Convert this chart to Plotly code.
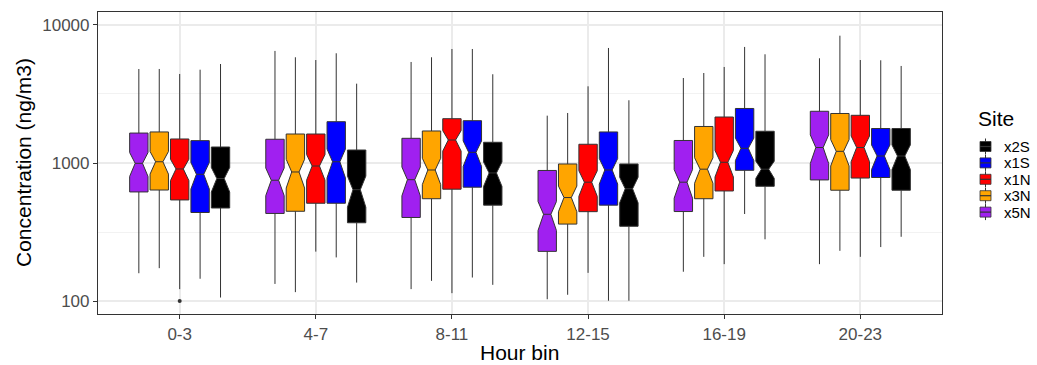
import plotly.graph_objects as go

# Hour bins on the x axis and sites (drawn left to right inside each bin)
hour_bins = ["0-3", "4-7", "8-11", "12-15", "16-19", "20-23"]
sites = ["x5N", "x3N", "x1N", "x1S", "x2S"]
legend_order = ["x2S", "x1S", "x1N", "x3N", "x5N"]
site_colors = {
    "x5N": "#A020F0",
    "x3N": "#FFA500",
    "x1N": "#FF0000",
    "x1S": "#0000FF",
    "x2S": "#000000",
}

# Box statistics per site, one value per hour bin (ng/m3)
lower_whisker = {
    "x5N": [159, 133, 122, 103, 163, 185],
    "x3N": [173, 116, 140, 111, 209, 231],
    "x1N": [122, 228, 114, 160, 185, 209],
    "x1S": [145, 207, 148, 100.5, 427, 246],
    "x2S": [106, 136, 131, 100.5, 280, 292],
}
q1 = {
    "x5N": [617, 431, 403, 229, 445, 754],
    "x3N": [637, 447, 551, 361, 551, 635],
    "x1N": [540, 511, 646, 444, 627, 778],
    "x1S": [438, 511, 668, 495, 885, 785],
    "x2S": [472, 369, 495, 348, 678, 635],
}
median = {
    "x5N": [995, 750, 757, 425, 726, 1295],
    "x3N": [1021, 861, 890, 562, 902, 1215],
    "x1N": [905, 951, 1468, 726, 1012, 1295],
    "x1S": [828, 1021, 1195, 890, 1278, 1124],
    "x2S": [772, 641, 847, 651, 902, 1124],
}
q3 = {
    "x5N": [1648, 1486, 1510, 883, 1456, 2370],
    "x3N": [1679, 1622, 1706, 984, 1839, 2284],
    "x1N": [1493, 1622, 2094, 1367, 2154, 2216],
    "x1S": [1452, 1992, 2026, 1679, 2483, 1778],
    "x2S": [1306, 1242, 1413, 984, 1698, 1778],
}
upper_whisker = {
    "x5N": [4797, 6486, 5395, 2203, 4129, 5738],
    "x3N": [4800, 5834, 5834, 2303, 4487, 8365],
    "x1N": [4416, 5572, 6699, 3594, 4963, 5572],
    "x1S": [4742, 6237, 6699, 6813, 6931, 5548],
    "x2S": [5214, 3756, 4395, 2847, 6133, 5047],
}
# Notch limits around the median
notch_low = {
    "x5N": [818, 600, 599, 336, 576, 1027],
    "x3N": [850, 682, 718, 456, 733, 980],
    "x1N": [760, 772, 1240, 590, 815, 1050],
    "x1S": [668, 808, 971, 723, 1063, 919],
    "x2S": [631, 498, 694, 529, 783, 919],
}
notch_high = {
    "x5N": [1210, 939, 956, 537, 916, 1634],
    "x3N": [1230, 1087, 1103, 693, 1111, 1506],
    "x1N": [1078, 1172, 1736, 895, 1256, 1597],
    "x1S": [1027, 1289, 1471, 1096, 1536, 1374],
    "x2S": [943, 824, 1034, 802, 1039, 1374],
}
# Outliers beyond the whiskers (x1N sits at the centre of its bin)
outlier_bins = ["0-3"]
outlier_values = [100]

y_tick_vals = [100, 1000, 10000]
y_tick_text = ["100", "1000", "10000"]
y_minor_vals = [316.23, 3162.3]

EDGE = "#333333"
FONT = "Liberation Sans, Arial, sans-serif"

fig = go.Figure()
for s in sites:
    span = [(hi - lo) / 2 for lo, hi in zip(notch_low[s], notch_high[s])]
    fig.add_trace(go.Box(
        name=s,
        x=hour_bins,
        q1=q1[s],
        median=median[s],
        q3=q3[s],
        lowerfence=lower_whisker[s],
        upperfence=upper_whisker[s],
        notched=True,
        notchspan=span,
        notchwidth=0.3,
        whiskerwidth=0,
        boxpoints=False,
        fillcolor=site_colors[s],
        line=dict(color=EDGE, width=1),
        showlegend=False,
        hoverinfo="skip",
    ))

fig.add_trace(go.Scatter(
    x=outlier_bins, y=outlier_values, mode="markers",
    marker=dict(size=4, color=EDGE), showlegend=False, hoverinfo="skip",
))

# Plot-area geometry in pixels, used to lay out titles and the legend
PL, PR, PT, PB = 98, 942, 12, 314


def fx(xp):
    return (xp - PL) / (PR - PL)


def fy(yp):
    return (PB - yp) / (PB - PT)


shapes = []
annotations = [
    dict(text="Hour bin", xref="paper", yref="paper", x=fx(519), y=fy(352),
         xanchor="center", yanchor="middle", showarrow=False, height=24,
         font=dict(size=21, color="#000000", family=FONT)),
    dict(text="Concentration (ng/m3)", xref="paper", yref="paper",
         x=fx(23), y=fy(163), textangle=-90,
         xanchor="center", yanchor="middle", showarrow=False,
         font=dict(size=21, color="#000000", family=FONT)),
    dict(text="Site", xref="paper", yref="paper", x=fx(976), y=fy(118),
         xanchor="left", yanchor="middle", showarrow=False,
         font=dict(size=21, color="#000000", family=FONT)),
]
for i, s in enumerate(legend_order):
    c = 146.5 + 16.4 * i
    shapes.append(dict(type="line", xref="paper", yref="paper",
                       x0=fx(985.5), x1=fx(985.5), y0=fy(c - 8), y1=fy(c + 8),
                       line=dict(color=EDGE, width=1)))
    shapes.append(dict(type="rect", xref="paper", yref="paper",
                       x0=fx(980), x1=fx(991), y0=fy(c - 5), y1=fy(c + 5),
                       fillcolor=site_colors[s], line=dict(color=EDGE, width=0.8)))
    shapes.append(dict(type="line", xref="paper", yref="paper",
                       x0=fx(980), x1=fx(991), y0=fy(c), y1=fy(c),
                       line=dict(color=EDGE, width=1.2)))
    annotations.append(dict(
        text=s, xref="paper", yref="paper", x=fx(1003), y=fy(c),
        xanchor="left", yanchor="middle", showarrow=False,
        height=15, valign="middle", borderpad=0,
        font=dict(size=15, color="#000000", family=FONT),
    ))

fig.update_layout(
    width=1037, height=365,
    margin=dict(l=PL, r=1037 - PR, t=PT, b=365 - PB, autoexpand=False),
    boxmode="group", boxgap=0.25, boxgroupgap=0.1,
    plot_bgcolor="white", paper_bgcolor="white",
    font=dict(family=FONT, color="#000000"),
    showlegend=False,
    shapes=shapes,
    annotations=annotations,
    xaxis=dict(
        type="category", categoryorder="array", categoryarray=hour_bins,
        range=[-0.6, 5.6], automargin=False,
        showgrid=True, gridcolor="#EBEBEB", gridwidth=1.6,
        ticks="outside", ticklen=4, tickcolor=EDGE, tickwidth=1,
        tickfont=dict(size=17, color="#4D4D4D"),
        showline=True, linecolor=EDGE, linewidth=1.2, mirror=True,
        zeroline=False,
    ),
    yaxis=dict(
        type="log", range=[1.906, 4.094], automargin=False,
        tickmode="array", tickvals=y_tick_vals, ticktext=y_tick_text,
        showgrid=True, gridcolor="#EBEBEB", gridwidth=1.6,
        minor=dict(tickmode="array", tickvals=y_minor_vals, showgrid=True,
                   gridcolor="#F2F2F2", gridwidth=0.8, ticks=""),
        ticks="outside", ticklen=4, tickcolor=EDGE, tickwidth=1,
        tickfont=dict(size=17, color="#4D4D4D"),
        showline=True, linecolor=EDGE, linewidth=1.2, mirror=True,
        zeroline=False,
    ),
)

fig.write_html("out.html")
